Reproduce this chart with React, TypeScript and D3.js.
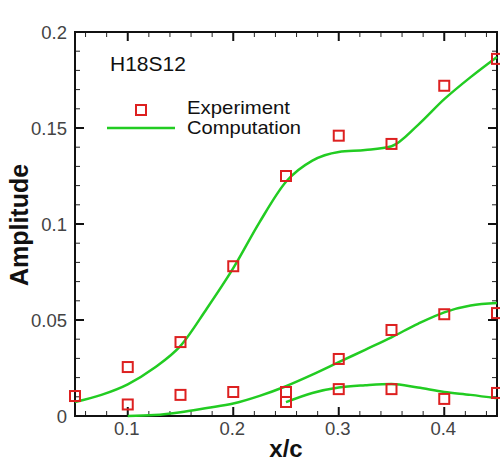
import React from "react";
import * as d3 from "d3";

const W = 500;
const H = 465;
const M = { left: 75, right: 497, top: 32, bottom: 416 };

const xTicks = [0.1, 0.2, 0.3, 0.4];
const yTicks = [0, 0.05, 0.1, 0.15, 0.2];
const yTickLabels = ["0", "0.05", "0.1", "0.15", "0.2"];
const xTickLabels = ["0.1", "0.2", "0.3", "0.4"];

// Experiment (open red squares)
const expX1 = [0.05, 0.1, 0.15, 0.2, 0.25, 0.3, 0.35, 0.4, 0.45];
const expY1 = [0.0104, 0.0255, 0.0385, 0.078, 0.125, 0.146, 0.1417, 0.172, 0.186];
const expX2 = [0.1, 0.15, 0.2, 0.25, 0.3, 0.35, 0.4, 0.45];
const expY2 = [0.006, 0.011, 0.0125, 0.0125, 0.0297, 0.0448, 0.053, 0.0536];
const expX3 = [0.25, 0.3, 0.35, 0.4, 0.45];
const expY3 = [0.0073, 0.014, 0.014, 0.0089, 0.012];

// Computation (green lines)
const compX1 = [0.05, 0.075, 0.1, 0.125, 0.15, 0.175, 0.2, 0.225, 0.25, 0.275, 0.3, 0.325, 0.35, 0.375, 0.4, 0.425, 0.45];
const compY1 = [0.0073, 0.011, 0.0165, 0.025, 0.0365, 0.056, 0.077, 0.101, 0.122, 0.133, 0.1375, 0.1385, 0.1405, 0.1515, 0.165, 0.1765, 0.187];
const compX2 = [0.1, 0.125, 0.15, 0.175, 0.2, 0.225, 0.25, 0.275, 0.3, 0.325, 0.35, 0.375, 0.4, 0.425, 0.45];
const compY2 = [0.0, 0.0005, 0.002, 0.0042, 0.0065, 0.0105, 0.0155, 0.0215, 0.028, 0.0345, 0.041, 0.048, 0.054, 0.0575, 0.0588];
const compX3 = [0.25, 0.275, 0.3, 0.325, 0.35, 0.375, 0.4, 0.425, 0.45];
const compY3 = [0.0072, 0.012, 0.0148, 0.016, 0.0167, 0.0148, 0.0125, 0.011, 0.0092];

const GREEN = "#22cc22";
const RED = "#dd2020";
const FONT = "'Liberation Sans', Arial, Helvetica, sans-serif";

export default function App() {
  const x = d3.scaleLinear().domain([0.05, 0.45]).range([M.left, M.right]);
  const y = d3.scaleLinear().domain([0, 0.2]).range([M.bottom, M.top]);
  const line = d3
    .line<[number, number]>()
    .x((d) => x(d[0]))
    .y((d) => y(d[1]))
    .curve(d3.curveMonotoneX);

  const series = [
    [compX1, compY1],
    [compX2, compY2],
    [compX3, compY3],
  ];
  const exps = [
    [expX1, expY1],
    [expX2, expY2],
    [expX3, expY3],
  ];

  const xMinor = d3.range(0.06, 0.45, 0.02).filter((v) => Math.abs(v * 10 - Math.round(v * 10)) > 1e-6);
  const yMinor = d3.range(0.01, 0.2, 0.01).filter((v) => Math.abs(v * 20 - Math.round(v * 20)) > 1e-6);

  const sq = 10;

  return (
    <svg
      width={W}
      height={H}
      style={{ position: "absolute", left: 0, top: 0, background: "#fff" }}
      fontFamily={FONT}
    >
      <rect x={0} y={0} width={W} height={H} fill="#fff" />
      {/* minor ticks */}
      {xMinor.map((v, i) => (
        <g key={"xm" + i} stroke="#222" strokeWidth={1}>
          <line x1={x(v)} x2={x(v)} y1={M.bottom} y2={M.bottom - 5} />
          <line x1={x(v)} x2={x(v)} y1={M.top} y2={M.top + 5} />
        </g>
      ))}
      {yMinor.map((v, i) => (
        <g key={"ym" + i} stroke="#222" strokeWidth={1}>
          <line x1={M.left} x2={M.left + 5} y1={y(v)} y2={y(v)} />
          <line x1={M.right} x2={M.right - 5} y1={y(v)} y2={y(v)} />
        </g>
      ))}
      {/* major ticks */}
      {xTicks.map((v, i) => (
        <g key={"xt" + i}>
          <line x1={x(v)} x2={x(v)} y1={M.bottom} y2={M.bottom - 9} stroke="#111" strokeWidth={2} />
          <line x1={x(v)} x2={x(v)} y1={M.top} y2={M.top + 9} stroke="#111" strokeWidth={2} />
          <text x={x(v) - 1} y={M.bottom + 19} textAnchor="middle" fontSize={18.5} fill="#444">
            {xTickLabels[i]}
          </text>
        </g>
      ))}
      {yTicks.map((v, i) => (
        <g key={"yt" + i}>
          <line x1={M.left} x2={M.left + 9} y1={y(v)} y2={y(v)} stroke="#111" strokeWidth={2} />
          <line x1={M.right} x2={M.right - 9} y1={y(v)} y2={y(v)} stroke="#111" strokeWidth={2} />
          <text x={M.left - 8} y={y(v) + 7} textAnchor="end" fontSize={18.5} fill="#444">
            {yTickLabels[i]}
          </text>
        </g>
      ))}
      {/* frame */}
      <rect
        x={M.left}
        y={M.top}
        width={M.right - M.left}
        height={M.bottom - M.top}
        fill="none"
        stroke="#111"
        strokeWidth={2}
      />
      {/* lines */}
      {series.map(([xs, ys], i) => (
        <path
          key={"c" + i}
          d={line(xs.map((v, j) => [v, ys[j]] as [number, number])) || ""}
          fill="none"
          stroke={GREEN}
          strokeWidth={2.5}
        />
      ))}
      {/* squares */}
      {exps.map(([xs, ys], i) =>
        xs.map((v, j) => (
          <rect
            key={"e" + i + "-" + j}
            x={x(v) - sq / 2}
            y={y(ys[j]) - sq / 2}
            width={sq}
            height={sq}
            fill="none"
            stroke={RED}
            strokeWidth={2}
          />
        ))
      )}
      {/* title & legend */}
      <text x={110} y={71} fontSize={21} fill="#111">
        H18S12
      </text>
      <rect x={141 - sq / 2} y={110 - sq / 2} width={sq} height={sq} fill="none" stroke={RED} strokeWidth={2} />
      <line x1={107} x2={175} y1={128} y2={128} stroke={GREEN} strokeWidth={2.5} />
      <text x={187} y={114} fontSize={19} fill="#111" textLength={103} lengthAdjust="spacingAndGlyphs">
        Experiment
      </text>
      <text x={187} y={134} fontSize={19} fill="#111" textLength={114} lengthAdjust="spacingAndGlyphs">
        Computation
      </text>
      {/* axis titles */}
      <text
        x={0}
        y={0}
        transform={`translate(28, 225) rotate(-90)`}
        textAnchor="middle"
        fontSize={25}
        fontWeight="bold"
        fill="#111"
      >
        Amplitude
      </text>
      <text x={286} y={457} textAnchor="middle" fontSize={24} fontWeight="bold" fill="#111">
        x/c
      </text>
    </svg>
  );
}
